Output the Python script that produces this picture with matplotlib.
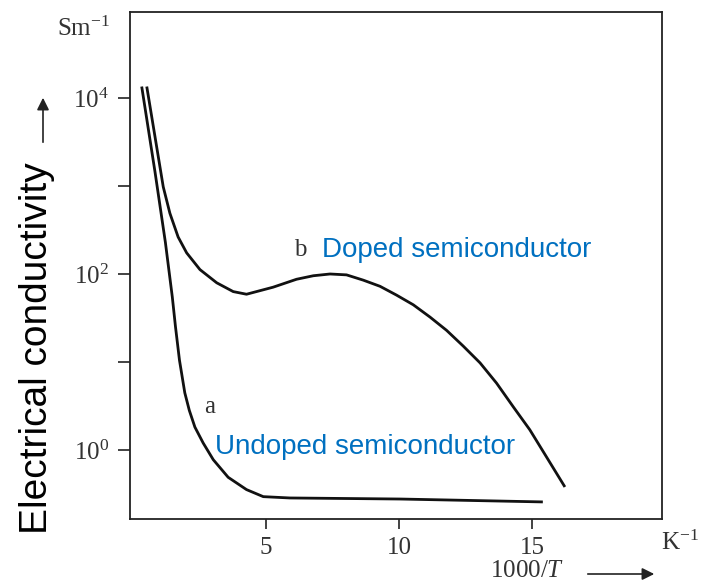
import matplotlib
matplotlib.use("Agg")
import matplotlib.pyplot as plt
import numpy as np

plt.rcParams['font.family'] = ['Liberation Serif', 'DejaVu Serif']
plt.rcParams['mathtext.fontset'] = 'custom'
plt.rcParams['mathtext.rm'] = 'Liberation Serif'
plt.rcParams['mathtext.it'] = 'Liberation Serif:italic'

# Curve a (undoped): x = 1000/T (K^-1), log10 of conductivity (S m^-1)
a_x = [0.33, 0.83, 1.22, 1.48, 1.60, 1.75, 1.95, 2.12, 2.33, 2.64, 3.02, 3.58, 4.27, 4.90, 5.90, 10.04, 15.41]
a_logy = [4.13, 3.16, 2.36, 1.74, 1.40, 1.02, 0.65, 0.45, 0.26, 0.08, -0.11, -0.31, -0.45, -0.53, -0.545, -0.557, -0.59]

# Curve b (doped)
b_x = [0.52, 0.83, 1.14, 1.39, 1.70, 2.02, 2.52, 3.15, 3.77, 4.27, 5.27, 6.15, 6.78, 7.41, 8.03, 8.66,
       9.29, 9.91, 10.54, 11.17, 11.79, 12.42, 13.05, 13.67, 14.30, 14.92, 15.55, 16.24]
b_logy = [4.13, 3.56, 2.99, 2.69, 2.42, 2.24, 2.05, 1.90, 1.80, 1.77, 1.85, 1.94, 1.98, 2.00, 1.99, 1.93,
          1.86, 1.76, 1.65, 1.51, 1.36, 1.18, 0.99, 0.76, 0.49, 0.23, -0.08, -0.42]

a_y = [10 ** v for v in a_logy]
b_y = [10 ** v for v in b_logy]

x_ticks = [5, 10, 15]
y_major = [1, 1e2, 1e4]
y_major_labels = [r'$\mathregular{10^{0}}$', r'$\mathregular{10^{2}}$', r'$\mathregular{10^{4}}$']
y_minor = [10, 1e3]

W, H = 701, 583
fig = plt.figure(figsize=(W / 100, H / 100), dpi=100)
ax = fig.add_axes([130 / W, 1 - 519 / H, (662 - 130) / W, (519 - 12) / H])
ax.set_yscale('log')
ax.set_xlim(-0.11, 19.89)
ax.set_ylim(10 ** -0.784, 10 ** 4.977)

ax.plot(a_x, a_y, color='#111111', lw=2.0, solid_joinstyle='round', solid_capstyle='butt')
ax.plot(b_x, b_y, color='#111111', lw=2.0, solid_joinstyle='round', solid_capstyle='butt')

for s in ax.spines.values():
    s.set_linewidth(1.3)
    s.set_color('#222222')

ax.set_xticks(x_ticks)
ax.set_xticklabels([str(t) for t in x_ticks], fontsize=18, color='#333333')
ax.set_yticks(y_major)
ax.set_yticklabels(y_major_labels, fontsize=18, color='#333333')
ax.set_yticks(y_minor, minor=True)
ax.yaxis.set_minor_formatter(matplotlib.ticker.NullFormatter())
ax.xaxis.set_minor_locator(matplotlib.ticker.NullLocator())
ax.tick_params(axis='both', which='both', direction='out', length=7, width=1.2, color='#222222', pad=6)
ax.tick_params(axis='y', which='both', length=9)

blue = '#0070C0'
sans = 'Liberation Sans'
ax.text(6.28, 10 ** 2.27, 'b', fontsize=18, color='#333333', ha='center', va='center')
ax.text(7.1, 10 ** 2.27, 'Doped semiconductor', fontfamily=sans, fontsize=20, color=blue, ha='left', va='center')
ax.text(2.89, 10 ** 0.49, 'a', fontsize=18, color='#333333', ha='center', va='center')
ax.text(3.08, 10 ** 0.034, 'Undoped semiconductor', fontfamily=sans, fontsize=20, color=blue, ha='left', va='center')

def fx(px):
    return px / W

def fy(py):
    return 1 - py / H

fig.text(fx(84), fy(29), r'$\mathregular{Sm^{-1}}$', fontsize=18, color='#333333', ha='center', va='center')
fig.text(fx(680), fy(543), r'$\mathregular{K^{-1}}$', fontsize=18, color='#333333', ha='center', va='center')
fig.text(fx(527), fy(571), r'$\mathregular{1000/}\mathit{T}$', fontsize=18, color='#333333', ha='center', va='center')
fig.text(fx(37), fy(348), 'Electrical conductivity', fontfamily=sans, fontsize=28,
         rotation=90, ha='center', va='center', color='black')

# arrows
fig.patches.append(matplotlib.patches.FancyArrowPatch((fx(585), fy(574)), (fx(657), fy(574)),
                   transform=fig.transFigure, arrowstyle='-|>', mutation_scale=18, lw=1.2, color='#222222'))
fig.patches.append(matplotlib.patches.FancyArrowPatch((fx(43), fy(145)), (fx(43), fy(95)),
                   transform=fig.transFigure, arrowstyle='-|>', mutation_scale=18, lw=1.2, color='#222222'))

fig.savefig('out.png', dpi=100, facecolor='white')
